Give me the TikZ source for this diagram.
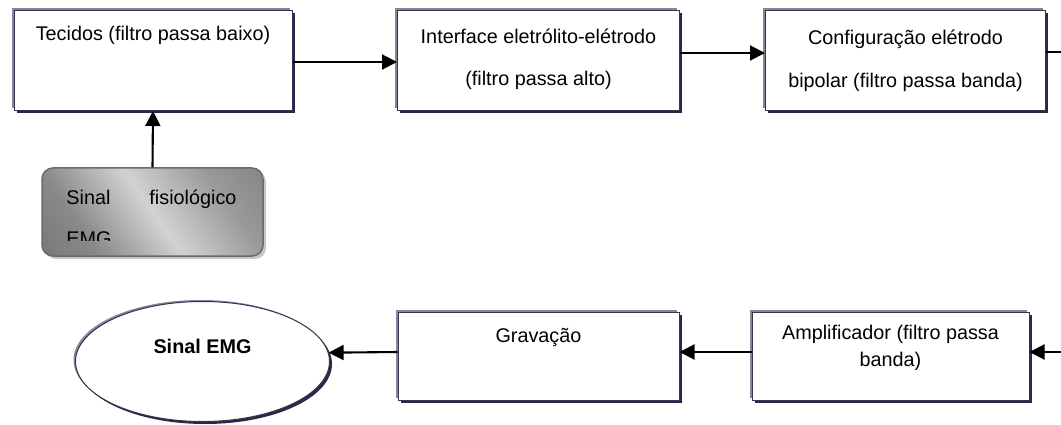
\documentclass[tikz,border=0pt]{standalone}
\usepackage{fontspec}
\setmainfont{Liberation Sans}
\usetikzlibrary{arrows.meta,shadows,shapes.geometric}

\definecolor{boxline}{HTML}{3A3152}
\definecolor{boxlight}{HTML}{8B8499}
\definecolor{boxdark}{HTML}{2E2642}
\definecolor{panelA}{HTML}{666666}
\definecolor{panelB}{HTML}{8A8A8A}
\definecolor{panelC}{HTML}{D2D2D2}
\definecolor{panelD}{HTML}{9A9A9A}
\definecolor{panelE}{HTML}{707070}
\definecolor{panelEdge}{HTML}{6A6A6A}

\pgfdeclarehorizontalshading{silverpanel}{100bp}{color(0bp)=(panelA); color(30bp)=(panelB); color(50bp)=(panelC); color(70bp)=(panelD); color(100bp)=(panelE)}

\begin{document}
\begin{tikzpicture}[x=1pt,y=-1pt,
  procbox/.style={draw=boxline, line width=1pt, fill=white, inner sep=0pt,
    general shadow={fill=boxlight, shadow xshift=-2.5pt, shadow yshift=2.5pt},
    general shadow={fill=boxdark, shadow xshift=2.5pt, shadow yshift=-2.5pt}},
  endoval/.style={ellipse, draw=boxline, line width=1pt, fill=white, inner sep=0pt,
    general shadow={fill=boxlight, shadow xshift=-2pt, shadow yshift=1.5pt},
    general shadow={fill=boxdark, shadow xshift=2.5pt, shadow yshift=-2.5pt}},
  sourcebox/.style={draw=panelEdge, line width=1.5pt, rounded corners=11pt,
    shading=silverpanel, shading angle=35, inner sep=0pt,
    general shadow={fill=black!22, shadow xshift=3pt, shadow yshift=-3pt}},
  lbl/.style={inner sep=0pt, align=center},
  arr/.style={line width=2.1pt, -{Triangle[length=15pt,width=15pt]}},
  plain/.style={line width=2.1pt}
]
\useasboundingbox (0,0) rectangle (1061,425);

% upper chain
\node[procbox, minimum width=278pt, minimum height=100pt] (b1) at (153,60.5) {};
\node[procbox, minimum width=282pt, minimum height=100pt] (b2) at (538.5,60.5) {};
\node[procbox, minimum width=280pt, minimum height=100pt] (b3) at (905.5,60.5) {};

% multi-line labels are anchored at the baseline of their last line
\node[lbl, anchor=base, font=\fontsize{19.8}{42}\selectfont] (t1) at ([yshift=-30.5pt]b1.north)
  {Tecidos (filtro passa baixo)};
\node[lbl, anchor=base, font=\fontsize{19.8}{42}\selectfont] (t2) at ([yshift=-75.5pt]b2.north)
  {Interface eletrólito-elétrodo\\(filtro passa alto)};
\node[lbl, anchor=base, font=\fontsize{19.8}{43}\selectfont] (t3) at ([yshift=-77.5pt]b3.north)
  {Configuração elétrodo\\bipolar (filtro passa banda)};

% physiological source (fixed-width text is anchored at its first line)
\node[sourcebox, minimum width=221pt, minimum height=88pt] (sig) at (152.5,212) {};
\begin{scope}
  \clip (sig.north west) rectangle ([yshift=-73pt]sig.north east);
  \node[inner sep=0pt, anchor=base west, text width=170pt, align=left,
        font=\fontsize{19.8}{41}\selectfont] (tsig) at ([xshift=25pt,yshift=-37pt]sig.north west)
    {\makebox[170pt]{Sinal\hfill fisiológico}\\EMG};
\end{scope}

% lower chain
\node[procbox, minimum width=281pt, minimum height=88pt] (b4) at (538.5,356) {};
\node[procbox, minimum width=277pt, minimum height=88pt] (b5) at (890.5,356) {};
\node[endoval, minimum width=254pt, minimum height=120pt] (ell) at (202.5,361.5) {};

\node[lbl, anchor=base, font=\fontsize{19.8}{27}\selectfont] (t4) at ([yshift=-31pt]b4.north)
  {Gravação};
\node[lbl, anchor=base, font=\fontsize{19.8}{27}\selectfont] (t5) at ([yshift=-55pt]b5.north)
  {Amplificador (filtro passa\\banda)};
\node[lbl, anchor=base, font=\fontsize{19.8}{24}\selectfont\bfseries] (t6) at ([yshift=8.5pt]ell.center)
  {Sinal EMG};

% loose ends at the right margin
\coordinate (outR) at (1061,52);
\coordinate (inR) at (1061,352);

% connectors
\draw[arr] (sig.north) -- (b1.south);
\draw[arr] ([yshift=-1.5pt]b1.east) -- ([yshift=-1.5pt]b2.west);
\draw[arr] ([yshift=7.5pt]b2.east) -- ([yshift=7.5pt]b3.west);
\draw[plain] ([yshift=8.5pt]b3.east) -- (outR);
\draw[arr] (inR) -- ([yshift=4pt]b5.east);
\draw[arr] ([yshift=4pt]b5.west) -- ([yshift=4pt]b4.east);
\draw[arr] ([yshift=4pt]b4.west) -- (ell.4.5);
\end{tikzpicture}
\end{document}
